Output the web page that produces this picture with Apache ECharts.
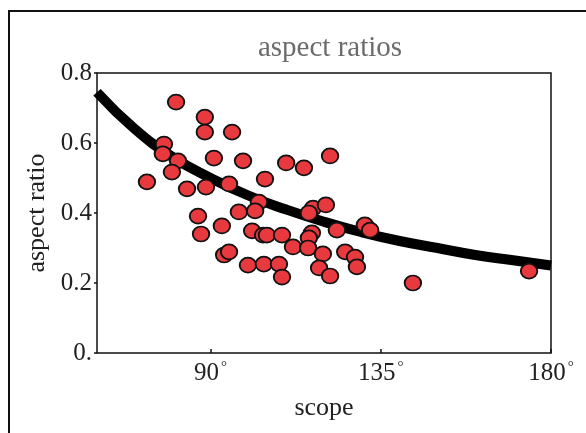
<!DOCTYPE html>
<html>
<head>
<meta charset="utf-8">
<script src="https://cdn.jsdelivr.net/npm/echarts@6/dist/echarts.min.js"></script>
<style>
  html, body { margin: 0; padding: 0; background: #fff; }
  #chart { width: 586px; height: 433px; }
</style>
</head>
<body>
<div id="chart"></div>
<script>
// 数据：scope (度) 与 aspect ratio
var scopeValues = [80.9, 88.5, 88.5, 95.7, 77.7, 77.4, 81.4, 90.9, 98.6, 110.0,
    114.7, 121.6, 79.8, 73.2, 83.8, 88.8, 94.9, 104.4, 102.8, 97.5,
    101.8, 86.7, 87.5, 93.0, 101.0, 103.9, 104.9, 108.9, 117.1, 116.0,
    120.5, 123.4, 116.8, 116.0, 111.8, 115.8, 119.7, 125.6, 93.6, 94.9,
    99.9, 104.1, 108.1, 108.9, 118.7, 121.6, 130.8, 132.2, 128.2, 128.7,
    143.5, 174.2];
var ratioValues = [0.717, 0.674, 0.631, 0.631, 0.597, 0.569, 0.549, 0.557, 0.549, 0.543,
    0.529, 0.563, 0.517, 0.489, 0.469, 0.474, 0.483, 0.497, 0.431, 0.403,
    0.406, 0.391, 0.340, 0.363, 0.349, 0.337, 0.337, 0.337, 0.414, 0.400,
    0.423, 0.351, 0.343, 0.329, 0.303, 0.300, 0.283, 0.289, 0.280, 0.289,
    0.251, 0.254, 0.254, 0.217, 0.243, 0.220, 0.366, 0.351, 0.274, 0.246,
    0.200, 0.234];
// 拟合曲线
var curveX = [60, 70, 80, 90, 100, 110, 120, 130, 140, 150, 160, 170, 180];
var curveY = [0.745, 0.64, 0.56, 0.50, 0.45, 0.41, 0.375, 0.345, 0.32, 0.30, 0.28, 0.265, 0.25];
// 刻度
var xTicks = [90, 135, 180];

(function() {
    var myChart = echarts.init(document.querySelector('#chart'));
    var serif = 'Liberation Serif';

    var points = scopeValues.map(function(v, i) { return [v, ratioValues[i]]; });
    var curve = curveX.map(function(v, i) { return [v, curveY[i]]; });

    var option = {
        backgroundColor: '#fff',
        animation: false,
        title: {
            text: 'aspect ratios',
            left: 325,
            top: 29,
            textAlign: 'center',
            textStyle: { fontFamily: serif, fontSize: 29, fontWeight: 'normal', color: '#6b6b6b' }
        },
        graphic: [{
            type: 'rect',
            shape: { x: 9, y: 11, width: 620, height: 460 },
            style: { fill: 'none', stroke: '#111', lineWidth: 2 },
            z: -1
        }],
        grid: {
            left: 97, top: 73, width: 454, height: 280,
            show: true, borderColor: '#111', borderWidth: 1.5,
            backgroundColor: 'transparent'
        },
        xAxis: {
            type: 'value',
            min: 60, max: 180,
            name: 'scope',
            nameLocation: 'middle',
            nameGap: 42,
            nameTextStyle: { fontFamily: serif, fontSize: 26, color: '#222' },
            splitLine: { show: false },
            axisLine: { show: false },
            axisTick: { show: true, inside: true, length: 4, customValues: xTicks, lineStyle: { color: '#111', width: 1.5 } },
            axisLabel: {
                customValues: xTicks,
                margin: 7,
                formatter: function(v) { return '{n|' + v + '}{d|°}'; },
                rich: {
                    n: { fontFamily: serif, fontSize: 25, color: '#222' },
                    d: { fontFamily: serif, fontSize: 15, color: '#222', padding: [0, 0, 12, 2] }
                }
            }
        },
        yAxis: {
            type: 'value',
            min: 0, max: 0.8, interval: 0.2,
            name: 'aspect ratio',
            nameLocation: 'middle',
            nameGap: 40,
            nameTextStyle: { fontFamily: serif, fontSize: 26, color: '#222' },
            splitLine: { show: false },
            axisLine: { show: false },
            axisTick: { show: true, length: 3, lineStyle: { color: '#111', width: 1.5 } },
            axisLabel: {
                margin: 5,
                fontFamily: serif, fontSize: 25, color: '#222',
                formatter: function(v) { return v === 0 ? '0.' : v.toFixed(1); }
            }
        },
        series: [{
            type: 'line',
            data: curve,
            smooth: true,
            showSymbol: false,
            lineStyle: { color: '#000', width: 10 },
            z: 2
        }, {
            type: 'scatter',
            data: points,
            symbol: 'circle',
            symbolSize: [16.5, 15],
            itemStyle: { color: '#e8393e', borderColor: '#111', borderWidth: 1.8, opacity: 1 },
            z: 3
        }]
    };
    myChart.setOption(option);
})();
</script>
</body>
</html>
